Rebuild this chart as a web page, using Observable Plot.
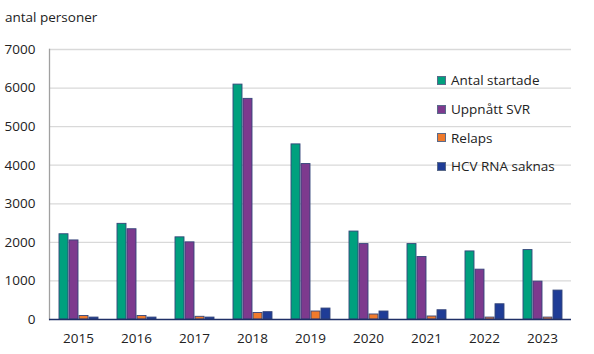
<!DOCTYPE html>
<html>
<head>
<meta charset="utf-8">
<script src="https://cdn.jsdelivr.net/npm/d3@7"></script>
<script src="https://cdn.jsdelivr.net/npm/@observablehq/plot@0.6"></script>
<style>
  body { margin: 0; background: #fff; }
  #wrap { position: relative; width: 594px; height: 354px; font-family: "Open Sans", sans-serif; color: #222; }
  #title { position: absolute; left: 5px; top: 8px; font-size: 13.5px; }
  #legend { position: absolute; left: 437px; top: 66px; font-size: 13.5px; }
  .item { display: flex; align-items: center; height: 28.7px; margin-top: 0; }
  .sw { width: 7px; height: 7px; border: 1px solid #5a6a8a; margin-right: 5px; }
</style>
</head>
<body>
<div id="wrap">
  <div id="chart"></div>
  <div id="title">antal personer</div>
  <div id="legend"></div>
</div>
<script>
const years = ["2015","2016","2017","2018","2019","2020","2021","2022","2023"];
const series = ["Antal startade","Uppnått SVR","Relaps","HCV RNA saknas"];
const colors = ["#00A07E","#7D3A8E","#EF7A2C","#1F3C96"];
const antalStartade = [2210, 2480, 2130, 6090, 4540, 2280, 1955, 1765, 1800];
const uppnattSVR    = [2050, 2340, 2000, 5720, 4030, 1955, 1620, 1292, 982];
const relaps        = [90, 90, 70, 170, 207, 130, 78, 50, 50];
const hcvRnaSaknas  = [50, 50, 50, 190, 284, 207, 240, 395, 750];
const yTicks = [0, 1000, 2000, 3000, 4000, 5000, 6000, 7000];

const valuesBySeries = [antalStartade, uppnattSVR, relaps, hcvRnaSaknas];
const data = [];
years.forEach((yr, i) => series.forEach((s, j) => data.push({year: yr, series: s, value: valuesBySeries[j][i]})));

const chart = Plot.plot({
  width: 594,
  height: 354,
  marginLeft: 48,
  marginRight: 22,
  marginTop: 49,
  marginBottom: 35,
  style: {fontFamily: "Open Sans, sans-serif", fontSize: "13px", color: "#222", background: "transparent"},
  fx: {domain: years, padding: 0, label: null, axis: null},
  x: {domain: series, axis: null, paddingInner: 0.15, paddingOuter: 0.9},
  y: {domain: [0, 7000], axis: null},
  color: {domain: series, range: colors},
  marks: [
    Plot.ruleY(yTicks.filter(d => d > 0), {stroke: "#d9d9d9", strokeWidth: 1.3}),
    Plot.axisY(yTicks, {tickSize: 0, tickPadding: 14, label: null, tickFormat: d => String(d), fontSize: 13.5, fill: "#222"}),
    Plot.axisFx({anchor: "bottom", tickSize: 0, tickPadding: 14, label: null, fontSize: 13.5, fill: "#222"}),
    Plot.frame({anchor: "left", facetAnchor: "left", stroke: "#a0a0a0", strokeWidth: 1.3}),
    Plot.barY(data, {fx: "year", x: "series", y: "value", fill: "series", stroke: "#34457a", strokeWidth: 0.9}),
    Plot.ruleY([0], {stroke: "#1f2f66", strokeWidth: 1.6})
  ]
});
document.getElementById("chart").appendChild(chart);

const leg = document.getElementById("legend");
series.forEach((s, j) => {
  const it = document.createElement("div");
  it.className = "item";
  const sw = document.createElement("div");
  sw.className = "sw";
  sw.style.background = colors[j];
  const t = document.createElement("span");
  t.textContent = s;
  it.appendChild(sw); it.appendChild(t);
  leg.appendChild(it);
});
</script>
</body>
</html>
